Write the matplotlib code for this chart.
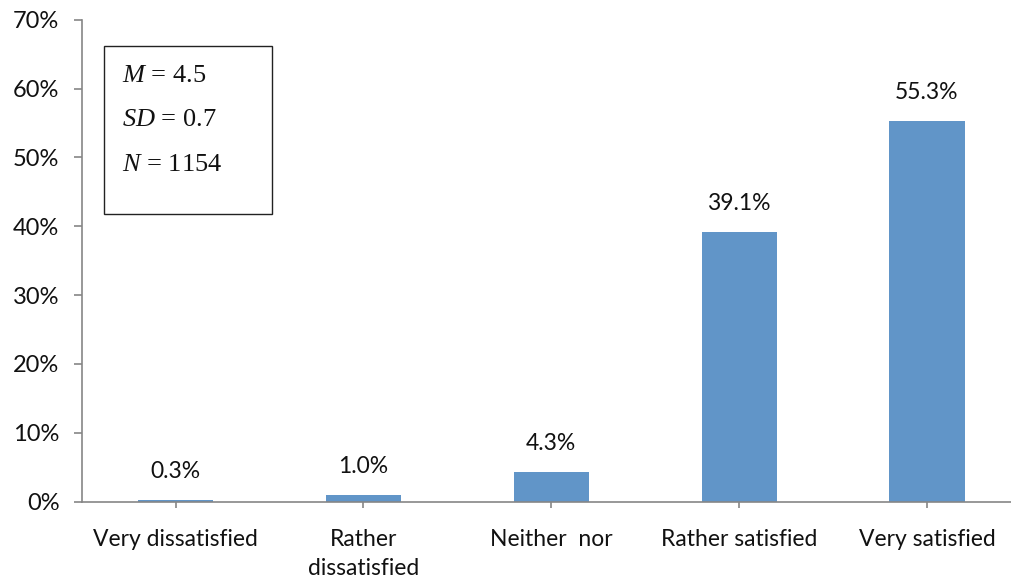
import matplotlib
matplotlib.use("Agg")
import matplotlib.pyplot as plt
from matplotlib.ticker import FuncFormatter, MultipleLocator

categories = ["Very dissatisfied", "Rather\ndissatisfied", "Neither  nor",
              "Rather satisfied", "Very satisfied"]
values = [0.3, 1.0, 4.3, 39.1, 55.3]
value_labels = ["0.3%", "1.0%", "4.3%", "39.1%", "55.3%"]
stats_lines = [r"$\it{M}$ = 4.5", r"$\it{SD}$ = 0.7", r"$\it{N}$ = 1154"]

plt.rcParams['font.family'] = ['Lato', 'DejaVu Sans']
plt.rcParams['mathtext.fontset'] = 'custom'
plt.rcParams['mathtext.it'] = 'Liberation Serif:italic'
plt.rcParams['mathtext.rm'] = 'Liberation Serif'

fig = plt.figure(figsize=(10.11, 5.83), dpi=100)
ax = fig.add_axes([0.0808, 0.1395, 1.0 - 0.0808, 0.9662 - 0.1395])

x = list(range(len(categories)))
bars = ax.bar(x, values, width=0.4, color="#6195C8", zorder=2)

for xi, v, lab in zip(x, values, value_labels):
    ax.annotate(lab, (xi, v), xytext=(0, 13), textcoords="offset points",
                ha="center", va="bottom", fontsize=16.5, color="#111111")

ax.set_xlim(-0.5, 4.447)
ax.set_ylim(0, 70)
ax.yaxis.set_major_locator(MultipleLocator(10))
ax.yaxis.set_major_formatter(FuncFormatter(lambda v, p: f"{v:.0f}%"))
ax.set_xticks(x)
ax.set_xticklabels(categories, fontsize=16.5, color="#111111", linespacing=1.5)
ax.tick_params(axis="y", labelsize=17, labelcolor="#111111", length=6,
               color="#868686", width=1.2, pad=10)
ax.tick_params(axis="x", length=4.5, color="#868686", width=1.2, pad=15)

for s in ["top", "right"]:
    ax.spines[s].set_visible(False)
for s in ["left", "bottom"]:
    ax.spines[s].set_color("#868686")
    ax.spines[s].set_linewidth(1.2)

# stats box
box_l, box_r = 104 / 1011, 272 / 1011
box_t, box_b = 1 - 46 / 583, 1 - 214 / 583
rect = plt.Rectangle((box_l, box_b), box_r - box_l, box_t - box_b,
                     transform=fig.transFigure, fill=False, edgecolor="#222222",
                     linewidth=1.0)
fig.add_artist(rect)
baselines = [82, 126, 171]
for yb, txt in zip(baselines, stats_lines):
    fig.text(122 / 1011, 1 - yb / 583, txt, fontsize=19, ha="left",
             va="baseline", color="#111111", family="Liberation Serif")

fig.savefig("out.png", dpi=100)
